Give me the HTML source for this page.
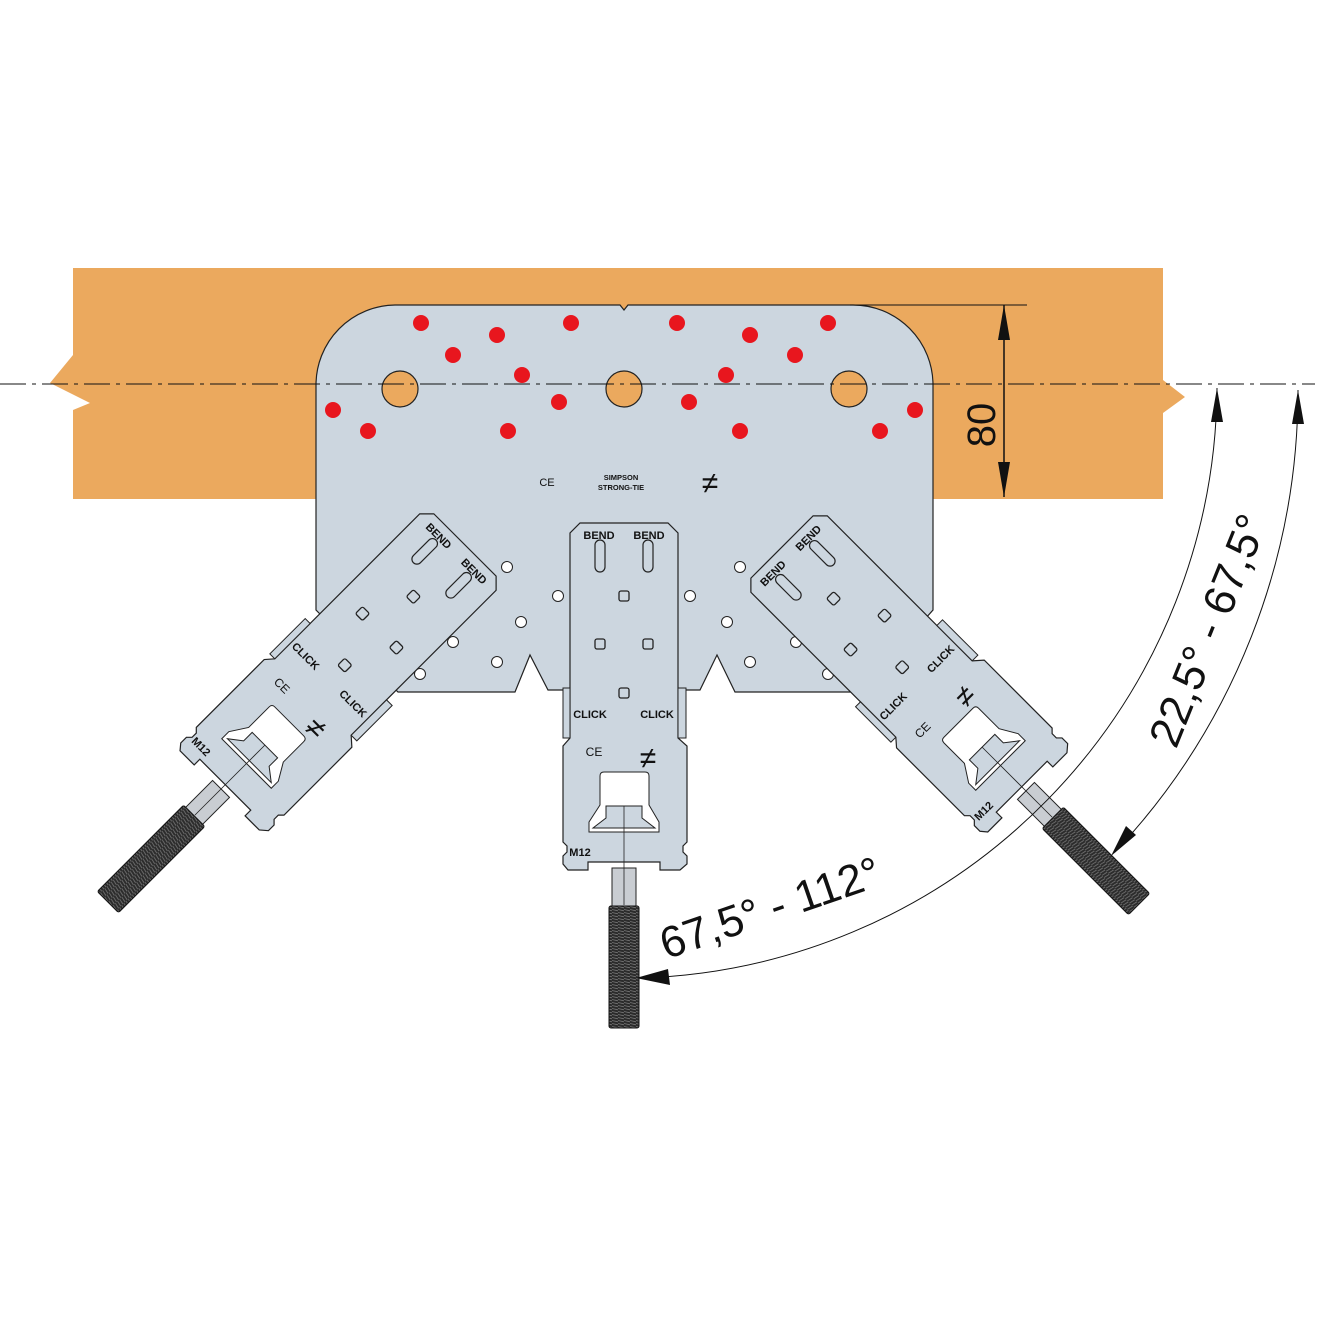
<!DOCTYPE html>
<html><head><meta charset="utf-8"><style>html,body{margin:0;padding:0;background:#fff}svg{display:block}</style></head>
<body>
<svg width="1333" height="1333" viewBox="0 0 1333 1333" xmlns="http://www.w3.org/2000/svg" font-family="Liberation Sans, sans-serif">
<defs>
<pattern id="thr" width="6" height="3" patternUnits="userSpaceOnUse">
<rect width="6" height="3" fill="#2b2b2b"/><line x1="0" y1="0.5" x2="6" y2="1.8" stroke="#777" stroke-width="0.8"/>
</pattern>
<g id="arm">
<path d="M580,523 H668 L678,533 V738 L687,746 V842 L683,846 V852 L687,856 V864 L680,870 H660 V862 H588 V870 H568 L563,864 V856 L567,852 V846 L563,842 V746 L570,738 V533 Z" fill="#ccd6df" stroke="#222" stroke-width="1.2"/>
<rect x="563" y="688" width="7" height="50" fill="#ccd6df" stroke="#222" stroke-width="1"/>
<rect x="678" y="688" width="8" height="50" fill="#ccd6df" stroke="#222" stroke-width="1"/>
<rect x="595" y="540" width="10" height="32" rx="5" fill="none" stroke="#222" stroke-width="1.2"/>
<rect x="643" y="540" width="10" height="32" rx="5" fill="none" stroke="#222" stroke-width="1.2"/>
<g fill="none" stroke="#222" stroke-width="1.3">
<rect x="619" y="591" width="10" height="10" rx="2"/><rect x="595" y="639" width="10" height="10" rx="2"/><rect x="643" y="639" width="10" height="10" rx="2"/><rect x="619" y="688" width="10" height="10" rx="2"/></g>
<path d="M604,772 H645 Q649,772 649,776 V805 L659,822 V832 H589 V822 L600,805 V776 Q600,772 604,772 Z" fill="#fff" stroke="#222" stroke-width="1"/>
<path d="M606,806 H642 V818 L655,828 H593 L606,818 Z" fill="#ccd6df" stroke="#222" stroke-width="1"/>
<rect x="612" y="868" width="24" height="40" fill="#c9cdd2" stroke="#222" stroke-width="1"/>
<rect x="609" y="906" width="30" height="122" rx="2" fill="url(#thr)" stroke="#111" stroke-width="1"/>
<line x1="624" y1="806" x2="624" y2="905" stroke="#222" stroke-width="0.8"/>
<g font-weight="bold" font-size="11" fill="#111">
<text x="599" y="539" text-anchor="middle">BEND</text><text x="649" y="539" text-anchor="middle">BEND</text>
<text x="590" y="718" text-anchor="middle">CLICK</text><text x="657" y="718" text-anchor="middle">CLICK</text>
<text x="594" y="756" text-anchor="middle" font-weight="normal" font-size="12">CE</text>
<text x="580" y="856" text-anchor="middle">M12</text>
<text x="648" y="768" text-anchor="middle" font-weight="normal" font-size="30">≠</text>
</g>
</g>
</defs>
<path d="M73,268 H1163 V380 L1185,397 L1163,413 V499 H73 V410 L90,403 L50,383 L73,355 Z" fill="#eba95e"/>
<path d="M395,305 H620 L624,310 L628,305 H853 A80,80 0 0 1 933,385 V610 L860,692 H735 L717,655 L700,690 H548 L530,655 L515,692 H398 L316,610 V385 A80,80 0 0 1 395,305 Z" fill="#ccd6df" stroke="#222" stroke-width="1.2"/>
<g fill="#eba95e" stroke="#222" stroke-width="1.2">
<circle cx="400" cy="389" r="18"/><circle cx="624" cy="389" r="18"/><circle cx="849" cy="389" r="18"/></g>
<g fill="#e8161e">
<circle cx="421" cy="323" r="8"/><circle cx="497" cy="335" r="8"/><circle cx="571" cy="323" r="8"/><circle cx="677" cy="323" r="8"/><circle cx="750" cy="335" r="8"/><circle cx="828" cy="323" r="8"/>
<circle cx="453" cy="355" r="8"/><circle cx="795" cy="355" r="8"/><circle cx="522" cy="375" r="8"/><circle cx="726" cy="375" r="8"/>
<circle cx="333" cy="410" r="8"/><circle cx="368" cy="431" r="8"/><circle cx="508" cy="431" r="8"/><circle cx="559" cy="402" r="8"/><circle cx="689" cy="402" r="8"/><circle cx="740" cy="431" r="8"/><circle cx="880" cy="431" r="8"/><circle cx="915" cy="410" r="8"/>
</g>
<g fill="#fff" stroke="#222" stroke-width="1">
<circle cx="507" cy="567" r="5.5"/><circle cx="558" cy="596" r="5.5"/><circle cx="521" cy="622" r="5.5"/><circle cx="453" cy="642" r="5.5"/><circle cx="497" cy="662" r="5.5"/><circle cx="420" cy="674" r="5.5"/>
<circle cx="690" cy="596" r="5.5"/><circle cx="740" cy="567" r="5.5"/><circle cx="727" cy="622" r="5.5"/><circle cx="796" cy="642" r="5.5"/><circle cx="750" cy="662" r="5.5"/><circle cx="828" cy="674" r="5.5"/>
</g>
<text x="547" y="486" font-size="11" text-anchor="middle" fill="#111">CE</text>
<text x="621" y="480" font-size="7.5" font-weight="bold" text-anchor="middle" fill="#111">SIMPSON</text>
<text x="621" y="490" font-size="7.5" font-weight="bold" text-anchor="middle" fill="#111">STRONG-TIE</text>
<text x="710" y="493" font-size="30" text-anchor="middle" fill="#111">≠</text>
<line x1="0" y1="384" x2="1315" y2="384" stroke="#111" stroke-width="1" stroke-dasharray="26,6,4,6"/>
<use href="#arm" transform="translate(465,545) rotate(45) translate(-624,-523)"/>
<use href="#arm" transform="translate(782,547) rotate(-45) translate(-624,-523)"/>
<use href="#arm"/>
<line x1="850" y1="305" x2="1027" y2="305" stroke="#111" stroke-width="1"/>
<line x1="1004" y1="305" x2="1004" y2="497" stroke="#111" stroke-width="1.5"/>
<path d="M1004,305 L998,340 L1010,340 Z M1004,497 L998,462 L1010,462 Z" fill="#111"/>
<text transform="translate(995,425) rotate(-90)" font-size="40" text-anchor="middle" fill="#111">80</text>
<path d="M1217,388 A594,594 0 0 1 640,978" fill="none" stroke="#111" stroke-width="1"/>
<path d="M1298,390 A674,674 0 0 1 1115,852" fill="none" stroke="#111" stroke-width="1"/>
<path d="M1217,388 L1211,422 L1223,422 Z M1298,390 L1292,424 L1304,424 Z" fill="#111"/>
<path d="M636,978 L668,969 L670,985 Z" fill="#111"/>
<path d="M1111,856 L1126,826 L1136,835 Z" fill="#111"/>
<text transform="translate(775,922) rotate(-19)" font-size="44" text-anchor="middle" fill="#111">67,5° - 112°</text>
<text transform="translate(1222,636) rotate(-68)" font-size="44" text-anchor="middle" fill="#111">22,5° - 67,5°</text>
</svg>
</body></html>
